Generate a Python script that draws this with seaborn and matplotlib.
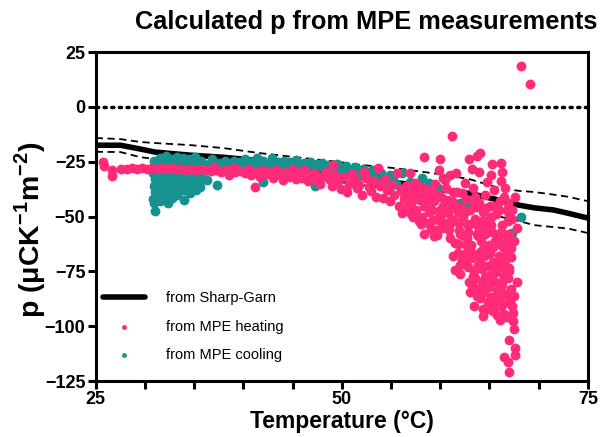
import numpy as np
import pandas as pd
import seaborn as sns
import matplotlib.pyplot as plt

# Sharp-Garn curve with its upper/lower bounds
sg_temp = [25, 27.5, 29.5, 31, 34.5, 38, 41.5, 45, 48.5, 52, 55.5, 58, 60.5, 63, 64.5, 66, 68, 69.5, 71.5, 73, 75]
sg_p = [-17.5, -17.5, -19.2, -20.6, -22, -23, -24.5, -27, -29.5, -32, -34.5, -36, -38, -39.5, -41, -42.5, -44.8, -46, -47, -48.5, -50.7]
sg_upper = [-14.2, -14.7, -16, -16.5, -17.4, -18.8, -21, -22.8, -24.5, -26.5, -28, -29.5, -31, -33, -35, -37, -38.3, -38.8, -40, -41, -43]
sg_lower = [-20.5, -20.6, -22.9, -23.8, -25.5, -27, -29, -31.5, -33.5, -35.6, -38, -40, -42.5, -46, -48, -50, -52, -53.9, -54.8, -55.5, -57.5]

# MPE heating
heat_temp = [25.7, 25.8, 26.7, 26.7, 27.6, 28.2, 28.7, 29.2, 29.7, 30.2, 30.7, 31.2, 31.7, 32.2, 32.7, 33.2, 33.7,
             34.2, 34.7, 35.2, 35.7, 36.2, 36.7, 37.2, 37.7, 38.2, 38.7, 39.2, 39.7, 40.2, 37.0, 39.0, 38.5,
             40.5, 40.8, 41.2, 41.3, 41.7, 42.0, 42.3, 42.7, 43.0, 43.3, 43.7, 44.0, 44.3, 44.6, 45.0, 45.3,
             45.6, 46.0, 46.2, 46.6, 46.9, 47.2, 47.5, 47.8, 48.1, 48.4, 48.7, 49.0,
             49.1, 49.3, 49.6, 49.9, 50.2, 50.5, 50.7, 51.0, 51.3, 51.5, 51.8, 52.1, 52.3, 52.5, 52.8, 53.0,
             53.3, 53.5, 53.7, 53.9, 54.2, 54.4, 54.6, 54.9, 55.1, 55.3, 55.6, 55.8, 56.1, 56.0, 56.3,
             61.2, 58.4, 60.0, 62.9, 64.0, 63.7, 65.3, 66.2, 66.3, 66.2, 59.9, 63.2, 63.9, 65.2, 61.0, 60.5,
             64.8, 62.5, 56.9, 60.3, 61.6, 62.2, 68.2, 69.1,
             56.5, 56.8, 57.0, 57.3, 57.5, 57.7, 58.0, 58.2, 58.4, 58.6,
             58.8, 59.0, 59.2, 59.4, 59.6, 59.7, 59.9, 60.1, 60.3, 60.4,
             60.6, 60.8, 61.0, 61.2, 61.4, 61.5, 61.7, 61.9, 62.1, 62.3, 62.4,
             62.6, 62.8, 63.0, 63.1, 63.3, 63.5, 63.7, 63.9, 64.1, 64.3, 64.4,
             64.6, 64.8, 65.0, 65.1, 65.3, 65.5, 65.7, 65.9, 66.1, 66.3, 66.4,
             66.6, 66.8, 67.0, 67.1, 67.3, 67.5, 67.2, 67.6, 67.8,
             56.2, 56.7, 57.2, 57.6, 58.1, 58.5, 58.9, 59.3, 59.8, 60.2, 60.7, 61.1, 61.6, 62.0, 62.5, 62.9,
             63.4, 63.8, 64.2, 64.7, 65.2, 65.6, 66.0, 66.5, 66.9, 57.4, 58.3, 59.1, 60.0, 60.9, 61.8, 62.7,
             63.6, 64.5, 65.4, 66.2, 67.0, 59.5, 61.3, 63.0, 64.9, 66.7,
             57.0, 57.8, 58.6, 59.4, 60.2, 61.0, 61.9, 62.8, 63.7, 64.6, 65.5, 66.4, 67.3,
             57.5, 58.4, 59.2, 60.0, 60.9, 61.8, 62.6, 63.5, 64.3, 65.2, 66.0, 66.9,
             61.3, 61.5, 61.8, 62.2, 62.5, 62.8, 63.1, 63.4, 63.6, 63.9, 64.2, 64.5, 64.8, 65.1, 65.4,
             65.7, 66.0, 66.3, 66.6, 66.8, 67.2,
             62.0, 62.7, 63.3, 64.0, 64.6, 65.3, 65.9, 66.5, 67.0, 63.0, 63.7, 64.4, 65.1, 65.7, 66.4, 67.1,
             64.6, 65.6, 66.1, 67.3,
             62.0, 62.9, 63.8, 64.7, 65.6, 66.4, 63.4, 64.3, 65.2, 66.1, 64.0, 65.0, 66.0, 67.0,
             63.2, 63.5, 63.8, 64.0, 64.2, 64.5, 64.8, 65.0, 65.2, 65.5, 65.8, 66.0, 66.3, 66.6, 66.9,
             67.2, 67.5, 67.8,
             65.0, 64.3, 64.9, 65.4, 65.8, 66.2, 66.5, 66.8, 67.4, 67.4, 67.5, 67.0, 67.6, 67.6, 66.5,
             66.9, 67.0]
heat_p = [-25.0, -27.0, -29.0, -31.5, -28.5, -28.5, -28.0, -28.5, -28.0, -28.2, -28.0, -28.3, -27.8, -28.4, -28.0,
          -28.5, -28.2, -28.8, -28.4, -28.6, -28.2, -28.9, -29.3, -28.6, -29.5, -29.0, -29.4, -29.8, -29.2, -30.0,
          -27.5, -27.8, -31.0,
          -28.5, -31.0, -36.5, -29.5, -32.0, -28.8, -30.8, -29.5, -32.5, -29.0, -31.0, -33.5, -29.8, -31.8, -28.5,
          -33.0, -30.5, -32.5, -29.0, -34.0, -31.0, -30.0, -33.5, -35.0, -31.5, -29.5, -33.0, -36.0,
          -26.5, -31.0, -34.0, -37.5, -32.0, -38.8, -35.0, -30.5, -33.5, -37.0, -35.5, -40.2, -29.7, -32.5, -36.5,
          -38.5, -34.0, -41.0, -27.9, -36.0, -41.6, -33.0, -38.0, -43.0, -35.5, -40.0, -30.2, -45.0, -48.4, -37.5,
          -42.0,
          -13.3, -22.9, -23.8, -23.8, -21.0, -22.4, -26.0, -25.6, -29.7, -33.8, -28.8, -28.4, -29.7, -31.1, -31.0,
          -33.4, -34.3, -34.7, -30.2, -32.5, -30.2, -39.3, 18.5, 10.5,
          -36.0, -40.0, -44.0, -38.0, -47.0, -42.0, -36.5, -50.0, -45.0, -40.0,
          -53.0, -38.0, -47.0, -43.0, -56.0, -58.5, -50.0, -41.0, -45.0, -53.0,
          -37.0, -48.0, -60.0, -43.0, -52.0, -62.0, -39.0, -56.0, -46.0, -50.0, -59.0,
          -42.0, -54.0, -47.0, -63.0, -37.0, -51.0, -58.0, -44.0, -61.0, -48.0, -55.0,
          -40.0, -52.0, -63.0, -45.0, -57.0, -38.0, -49.0, -60.0, -43.0, -54.0, -64.0,
          -37.0, -47.0, -58.0, -60.7, -51.0, -61.0, -64.4, -41.0, -55.0,
          -39.0, -45.5, -50.0, -41.0, -53.5, -44.0, -48.0, -51.5, -40.0, -55.0, -42.5, -51.0, -45.0, -58.0, -48.0,
          -53.5, -43.0, -59.0, -52.0, -46.0, -50.0, -61.0, -47.0, -41.0, -52.0, -34.5, -37.5, -55.5, -47.0, -56.0,
          -62.5, -60.0, -45.5, -58.0, -64.0, -57.0, -49.0, -35.0, -39.0, -65.0, -67.0, -62.0,
          -49.0, -52.0, -44.0, -59.0, -49.0, -46.0, -53.0, -57.0, -54.0, -58.0, -45.0, -58.0, -47.0,
          -40.0, -58.0, -41.0, -52.0, -54.5, -48.0, -63.0, -41.0, -65.0, -54.0, -62.5, -44.0,
          -68.0, -74.4, -66.5, -70.0, -67.0, -73.0, -69.0, -75.0, -67.5, -71.5, -74.0, -68.0, -72.5, -66.8, -70.5,
          -75.5, -68.0, -73.0, -70.0, -66.0, -68.5,
          -72.0, -69.5, -77.0, -66.0, -77.5, -73.5, -71.0, -77.0, -73.5, -84.5, -86.0, -82.0, -89.0, -87.5, -90.0,
          -88.0, -92.5, -90.0, -97.0, -91.0,
          -76.0, -80.0, -72.0, -80.5, -75.0, -79.0, -91.0, -92.0, -88.0, -86.0, -70.0, -77.0, -82.0, -75.0,
          -81.2, -78.0, -83.0, -87.2, -80.0, -84.5, -78.5, -82.0, -86.5, -79.5, -84.0, -88.0, -81.0, -85.5, -78.0,
          -83.0, -86.0, -80.0,
          -91.3, -95.4, -89.0, -93.0, -95.0, -91.0, -94.5, -96.0, -94.0, -97.7, -101.3, -106.3, -110.0, -113.0, -114.0,
          -116.4, -121.0]

# MPE cooling
cool_temp = [30.9, 30.9, 30.8, 31.0, 30.9, 31.0, 30.8, 30.9, 31.0,
             31.5, 31.4, 31.6, 31.5, 31.4, 31.6, 31.5, 31.5,
             32.1, 32.0, 32.2, 32.1, 32.0, 32.2, 32.1, 32.0,
             32.7, 32.6, 32.8, 32.7, 32.6, 32.8, 32.7, 32.3,
             33.3, 33.2, 33.4, 33.3, 33.2, 33.4, 33.3,
             33.9, 33.8, 34.0, 33.9, 33.8, 34.0, 34.0,
             34.5, 34.4, 34.6, 34.5, 34.4, 34.6,
             35.1, 35.0, 35.2, 35.1, 35.0, 35.2,
             35.7, 35.6, 35.8, 35.7, 35.6,
             36.3, 36.5, 36.8, 37.0, 37.3, 37.5, 37.8, 38.1, 38.4, 38.7, 39.0, 39.3, 39.6, 39.9, 40.2, 40.5,
             40.8, 41.1, 41.4, 41.7, 42.0, 42.0, 42.3, 42.6, 42.9, 43.2, 43.5, 43.8, 44.1, 44.4, 44.7, 45.0,
             45.3, 45.6, 45.9, 46.2, 46.5, 46.8, 47.1, 47.3, 47.4, 47.7, 48.0, 48.3, 48.6, 48.9, 49.2, 49.5,
             49.8, 50.1, 50.4, 50.7, 51.0, 51.3, 51.6, 51.9, 52.2, 52.5, 52.8, 53.1, 53.4, 53.7, 54.0, 54.3,
             54.6, 54.9, 55.2, 55.5, 56.1, 56.9, 58.2, 58.9, 59.8, 57.9, 62.0, 62.8, 64.5, 68.2, 62.8, 67.3]
cool_p = [-24.5, -27.0, -30.0, -33.0, -36.0, -39.0, -42.0, -44.0, -47.5,
          -23.5, -26.0, -29.0, -31.5, -34.5, -37.5, -40.5, -43.0,
          -22.5, -25.5, -28.0, -31.0, -33.5, -36.5, -39.0, -42.0,
          -24.0, -27.0, -30.0, -32.5, -35.5, -38.5, -41.5, -43.9,
          -22.8, -25.0, -28.5, -31.5, -34.0, -37.0, -40.0,
          -23.5, -26.5, -29.5, -32.5, -35.0, -38.0, -42.5,
          -24.0, -27.5, -30.5, -33.5, -36.5, -39.3,
          -23.0, -26.0, -29.0, -32.0, -35.0, -38.0,
          -24.5, -27.5, -30.5, -33.4, -36.5,
          -33.4, -26.0, -24.0, -28.5, -35.6, -25.5, -27.0, -24.8, -29.5, -26.0, -24.5, -27.5, -25.0, -28.0, -24.0,
          -26.5, -25.0, -27.8, -23.5, -26.0, -34.3, -24.8, -27.0, -25.5, -23.2, -26.8, -25.0, -28.0, -24.5, -26.5,
          -25.2, -27.5, -24.2, -26.0, -28.5, -25.5, -27.0, -25.0, -28.0, -36.0, -26.0, -27.5, -25.5, -28.5, -26.5,
          -27.0, -29.5, -26.0, -28.0, -30.0, -27.0, -29.0, -31.0, -27.5, -29.5, -31.5, -28.5, -30.5, -32.0, -29.0,
          -31.0, -33.0, -30.0, -32.5, -34.0, -31.0, -33.5, -35.0, -30.2, -34.3, -32.5, -34.7, -37.0, -42.5, -43.9,
          -43.4, -47.0, -50.2, -53.9, -57.5]

heat_color = '#FF2A78'
cool_color = '#17938F'

sns.set_style('ticks', {'axes.edgecolor': 'black', 'text.color': 'black', 'axes.labelcolor': 'black',
                        'xtick.color': 'black', 'ytick.color': 'black'})
plt.rcParams['font.family'] = ['Liberation Sans', 'DejaVu Sans']
plt.rcParams['mathtext.fontset'] = 'custom'
plt.rcParams['mathtext.bf'] = 'Liberation Sans:bold'
plt.rcParams['mathtext.rm'] = 'Liberation Sans'

heat = pd.DataFrame({'T': heat_temp, 'p': heat_p})
cool = pd.DataFrame({'T': cool_temp, 'p': cool_p})
sg = pd.DataFrame({'T': sg_temp, 'p': sg_p, 'up': sg_upper, 'lo': sg_lower})

fig = plt.figure(figsize=(6.06, 4.37), dpi=100)
ax = fig.add_axes([0.158, 0.128, 0.812, 0.753])

# zero reference, Sharp-Garn band, then the measurements on top
ax.axhline(0, color='black', lw=2.5, ls=(0, (0.6, 1.6)), dash_capstyle='round', zorder=1)
sns.lineplot(data=sg, x='T', y='up', color='black', lw=1.3, ls=(0, (4, 2.5)), ax=ax, zorder=2)
sns.lineplot(data=sg, x='T', y='lo', color='black', lw=1.3, ls=(0, (4, 2.5)), ax=ax, zorder=2)
sns.lineplot(data=sg, x='T', y='p', color='black', lw=4, ax=ax, zorder=2, label='from Sharp-Garn')
sns.scatterplot(data=cool, x='T', y='p', color=cool_color, s=50, linewidth=0, ax=ax, zorder=3,
                label='from MPE cooling')
sns.scatterplot(data=heat, x='T', y='p', color=heat_color, s=50, linewidth=0, ax=ax, zorder=4,
                label='from MPE heating')

ax.set_xlim(25, 75)
ax.set_ylim(-125, 25)
ax.set_xticks([25, 50, 75])
ax.set_xticks(np.arange(30, 75, 5), minor=True)
ax.set_yticks([-125, -100, -75, -50, -25, 0, 25])
for s in ax.spines.values():
    s.set_linewidth(2.2)
ax.tick_params(which='both', direction='out', width=2.2, length=6, labelsize=13, pad=1.5)
for lab in ax.get_xticklabels() + ax.get_yticklabels():
    lab.set_fontweight('bold')

ax.set_xlabel('Temperature (°C)', fontsize=16.5, fontweight='bold', labelpad=1)
ax.set_ylabel(r'p ($\mathbf{\mu}$CK$^{\mathbf{-1}}$m$^{\mathbf{-2}}$)', fontsize=20.5, fontweight='bold')
ax.yaxis.set_label_coords(-0.098, 0.46)
fig.text(0.604, 0.95, 'Calculated p from MPE measurements', ha='center', va='center',
         fontsize=18.3, fontweight='bold')

h, l = ax.get_legend_handles_labels()
order = [l.index('from Sharp-Garn'), l.index('from MPE heating'), l.index('from MPE cooling')]
ax.legend([h[i] for i in order], [l[i] for i in order], loc='lower left', bbox_to_anchor=(0.0, 0.035),
          borderaxespad=0, borderpad=0.5, frameon=False, fontsize=10.5, handlelength=2.9,
          markerscale=0.5, labelspacing=1.0, handletextpad=1.4)

fig.savefig('out.png', dpi=100)
